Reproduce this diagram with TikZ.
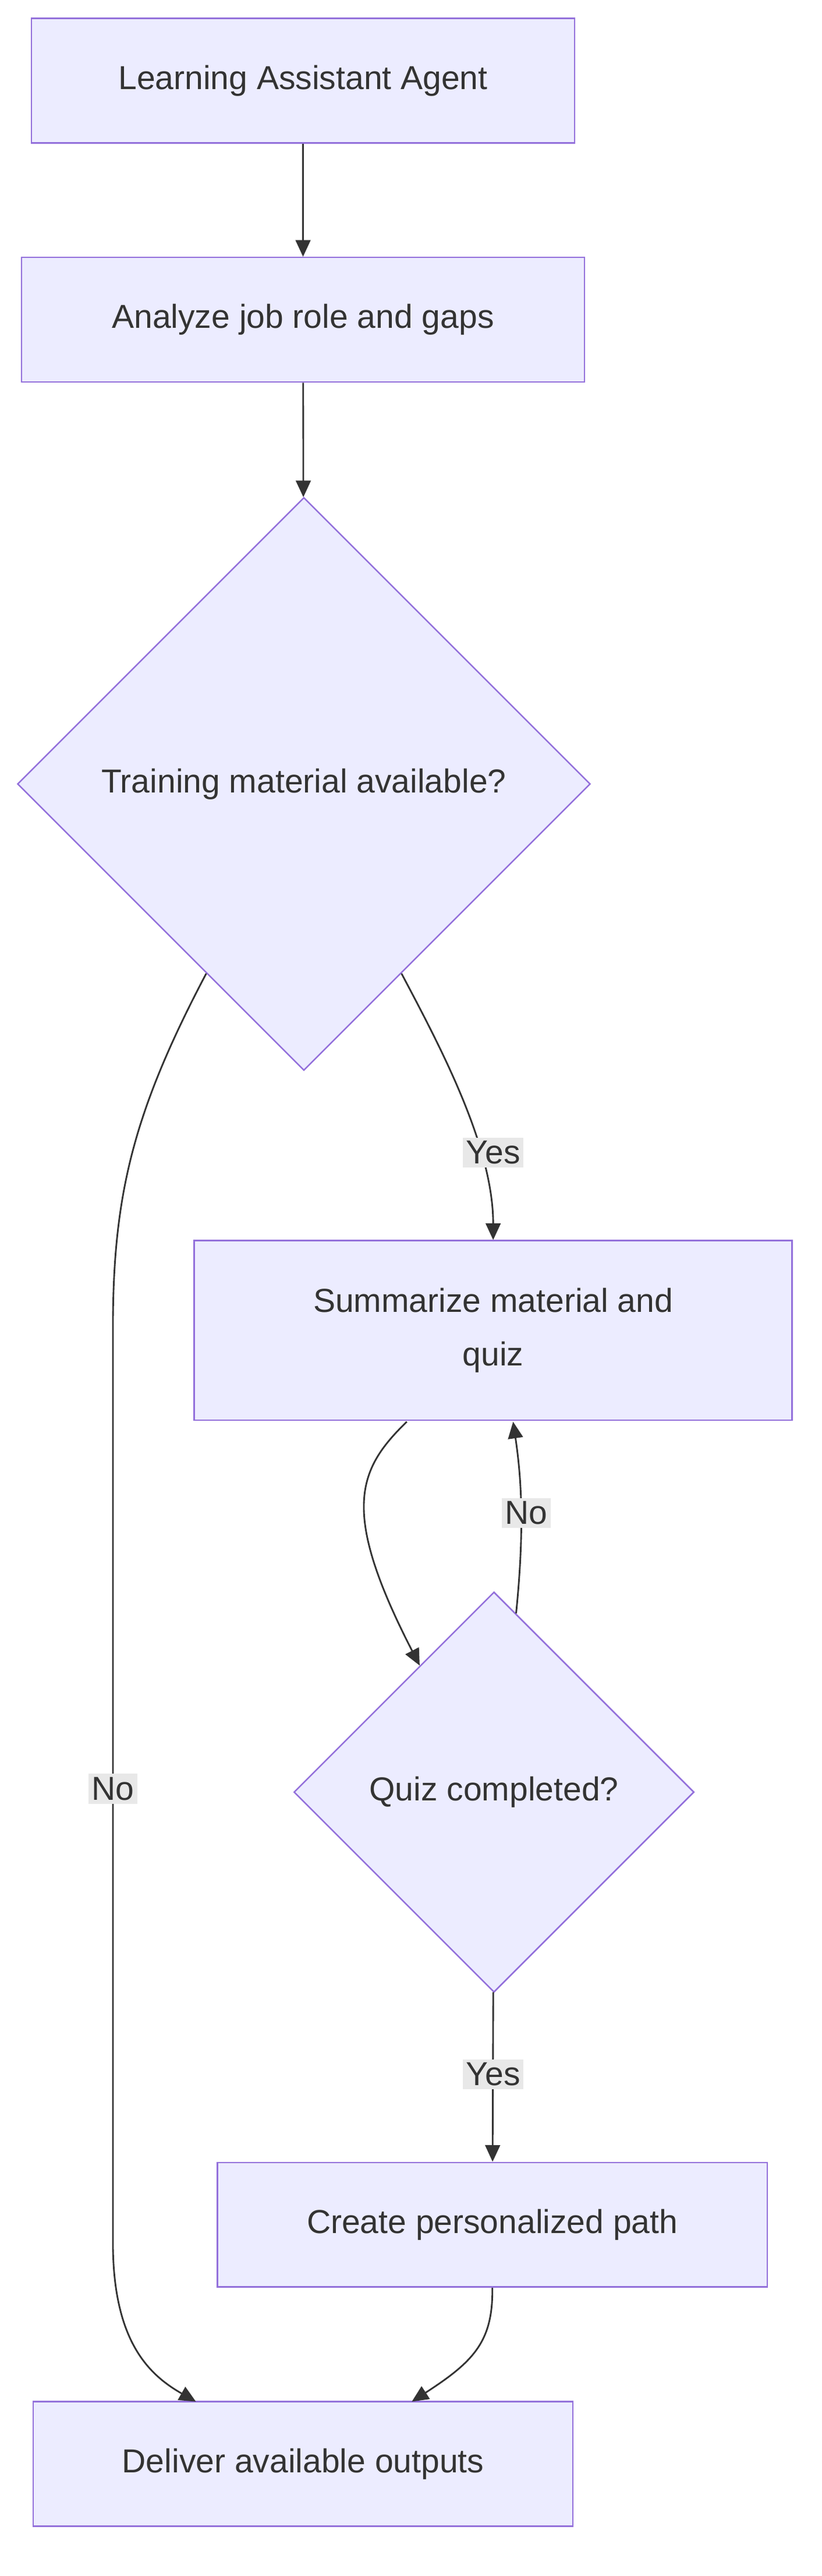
\documentclass[tikz,border=0pt]{standalone}
\usepackage{fontspec}
\setmainfont{Liberation Sans}
\usetikzlibrary{shapes.geometric,arrows.meta,calc}
\definecolor{nfill}{HTML}{ECECFF}
\definecolor{nline}{HTML}{9370DB}
\definecolor{ink}{HTML}{333333}
\definecolor{lbl}{HTML}{E8E8E8}
\begin{document}
\begin{tikzpicture}[x=1pt,y=-1pt,
  box/.style={draw=nline,fill=nfill,line width=0.9pt,text=ink,font=\fontsize{20}{32}\selectfont,inner sep=0,align=center},
  dia/.style={box,diamond,aspect=1},
  edge/.style={draw=ink,line width=1pt,-{Triangle[length=10pt,width=9pt]}},
  lab/.style={fill=lbl,text=ink,font=\fontsize{20}{24}\selectfont,inner sep=2pt}]
\useasboundingbox (0,0) rectangle (495,1551);
\node[box,minimum width=327pt,minimum height=75pt] (A) at (182.5,48.5) {Learning Assistant Agent};
\node[box,minimum width=339pt,minimum height=75pt] (B) at (182.5,192.5) {Analyze job role and gaps};
\node[dia,minimum width=345pt,minimum height=345pt] (C) at (183,472) {Training material available?};
\node[box,minimum width=360pt,minimum height=108pt] (D) at (297,801) {Summarize material and\\quiz};
\node[dia,minimum width=241pt,minimum height=241pt] (E) at (297.5,1079) {Quiz completed?};
\node[box,minimum width=331pt,minimum height=75pt] (F) at (296.5,1339.5) {Create personalized path};
\node[box,minimum width=325pt,minimum height=75pt] (G) at (182.5,1483.5) {Deliver available outputs};
\draw[edge] (A) -- (B);
\draw[edge] (B) -- (C);
\coordinate (c1) at ($(C.south)!0.34!(C.east)$);
\coordinate (c2) at ($(C.south)!0.34!(C.west)$);
\draw[edge] (c1) .. controls (265,630) and (297,690) .. (D.north);
\node[lab] (yes1) at (297,694) {Yes};
\draw[edge] (c2) .. controls (80,670) and (68,720) .. (68,800) -- (68,1350) .. controls (68,1410) and (90,1430) .. (118,1446);
\node[lab] (no1) at (68,1077) {No};
\coordinate (d1) at (245,856);
\coordinate (e1) at ($(E.north)!0.37!(E.west)$);
\draw[edge] (d1) .. controls (215,885) and (205,910) .. (e1);
\coordinate (e2) at ($(E.north)!0.11!(E.east)$);
\draw[edge] (e2) .. controls (316,920) and (314,890) .. (309,856);
\node[lab] (no2) at (317,911) {No};
\draw[edge] (E) -- (F);
\node[lab] (yes2) at (297,1249) {Yes};
\draw[edge] (F.south) .. controls (297,1410) and (285,1422) .. (248,1446);
\end{tikzpicture}
\end{document}
